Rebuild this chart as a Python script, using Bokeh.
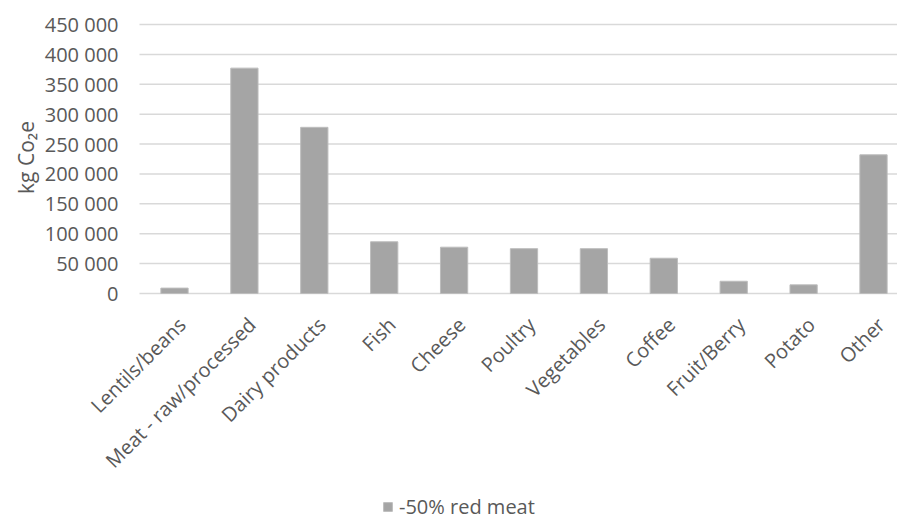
import math
from bokeh.plotting import figure
from bokeh.models import Range1d, Legend, LegendItem
from bokeh.core.properties import value
from bokeh.embed import file_html
from bokeh.resources import INLINE

# ---- data -------------------------------------------------------------
categories = ["Lentils/beans", "Meat - raw/processed", "Dairy products", "Fish", "Cheese",
              "Poultry", "Vegetables", "Coffee", "Fruit/Berry", "Potato", "Other"]
values = [9000, 377000, 278000, 86500, 77500, 75000, 75000, 59000, 20500, 14500, 232000]
y_ticks = [0, 50000, 100000, 150000, 200000, 250000, 300000, 350000, 400000, 450000]
y_tick_labels = ["0", "50 000", "100 000", "150 000", "200 000", "250 000",
                 "300 000", "350 000", "400 000", "450 000"]
series_name = "-50% red meat"
y_title = "kg Co\u2082e"

# ---- styling / layout constants (pixels) ------------------------------
FONT = "Open Sans"
TXT = "#595959"
GRID = "#d9d9d9"
BAR = "#a5a5a5"
W, H = 897, 520
PX_PLOT_LEFT = 139      # left edge of plotting area
PX_X1, PX_DX = 174, 69.9  # centre of first category, category spacing
PX_TOP, PX_ZERO = 24, 293  # pixel rows of the top tick and of zero

xs = list(range(1, len(categories) + 1))
y_top = y_ticks[-1]
y_per_px = y_top / (PX_ZERO - PX_TOP)
x_start = 1 - PX_X1 / PX_DX
x_end = x_start + W / PX_DX
x_left = x_start + PX_PLOT_LEFT / PX_DX
y_start = -(H - PX_ZERO) * y_per_px
y_end = y_top + PX_TOP * y_per_px

p = figure(width=W, height=H, output_backend="svg", toolbar_location=None,
           x_range=Range1d(x_start, x_end), y_range=Range1d(y_start, y_end),
           x_axis_location=None, y_axis_location=None, min_border=0)
p.frame_width = W
p.frame_height = H
p.outline_line_color = None
p.background_fill_color = "white"
p.border_fill_color = "white"
p.grid.visible = False

n_t = len(y_ticks)
# horizontal gridlines (value axis)
p.segment(x0=[x_left] * n_t, y0=y_ticks, x1=[x_end] * n_t, y1=y_ticks,
          line_color=GRID, line_width=1.5)

# bars
r = p.vbar(x=xs, top=values, width=0.39, fill_color=BAR, line_color="#bdbdbd", line_width=1)

# value-axis tick labels
p.text(x=[x_left] * n_t, y=y_ticks, text=y_tick_labels, x_offset=-21,
       text_align="right", text_baseline="middle",
       text_font=value(FONT), text_font_size="20px", text_color=TXT)

# value-axis title
p.text(x=[x_start + 25 / PX_DX], y=[(PX_ZERO - 157) * y_per_px], text=[y_title],
       angle=math.pi / 2, text_align="center", text_baseline="middle",
       text_font=value(FONT), text_font_size="21px", text_color=TXT)

# category labels, rotated 45 degrees
p.text(x=xs, y=[0] * len(xs), text=categories, angle=math.pi / 4,
       x_offset=-2, y_offset=18, text_align="right", text_baseline="top",
       text_font=value(FONT), text_font_size="20px", text_color=TXT)

legend = Legend(items=[LegendItem(label=series_name, renderers=[r])],
                location=(382, 0), orientation="horizontal",
                label_text_font=FONT, label_text_font_size="20px", label_text_color=TXT,
                glyph_width=11, glyph_height=11, label_standoff=6,
                border_line_color=None, background_fill_alpha=0, padding=0, margin=0)
p.add_layout(legend, "center")

open("out.html", "w").write(file_html(p, INLINE))
